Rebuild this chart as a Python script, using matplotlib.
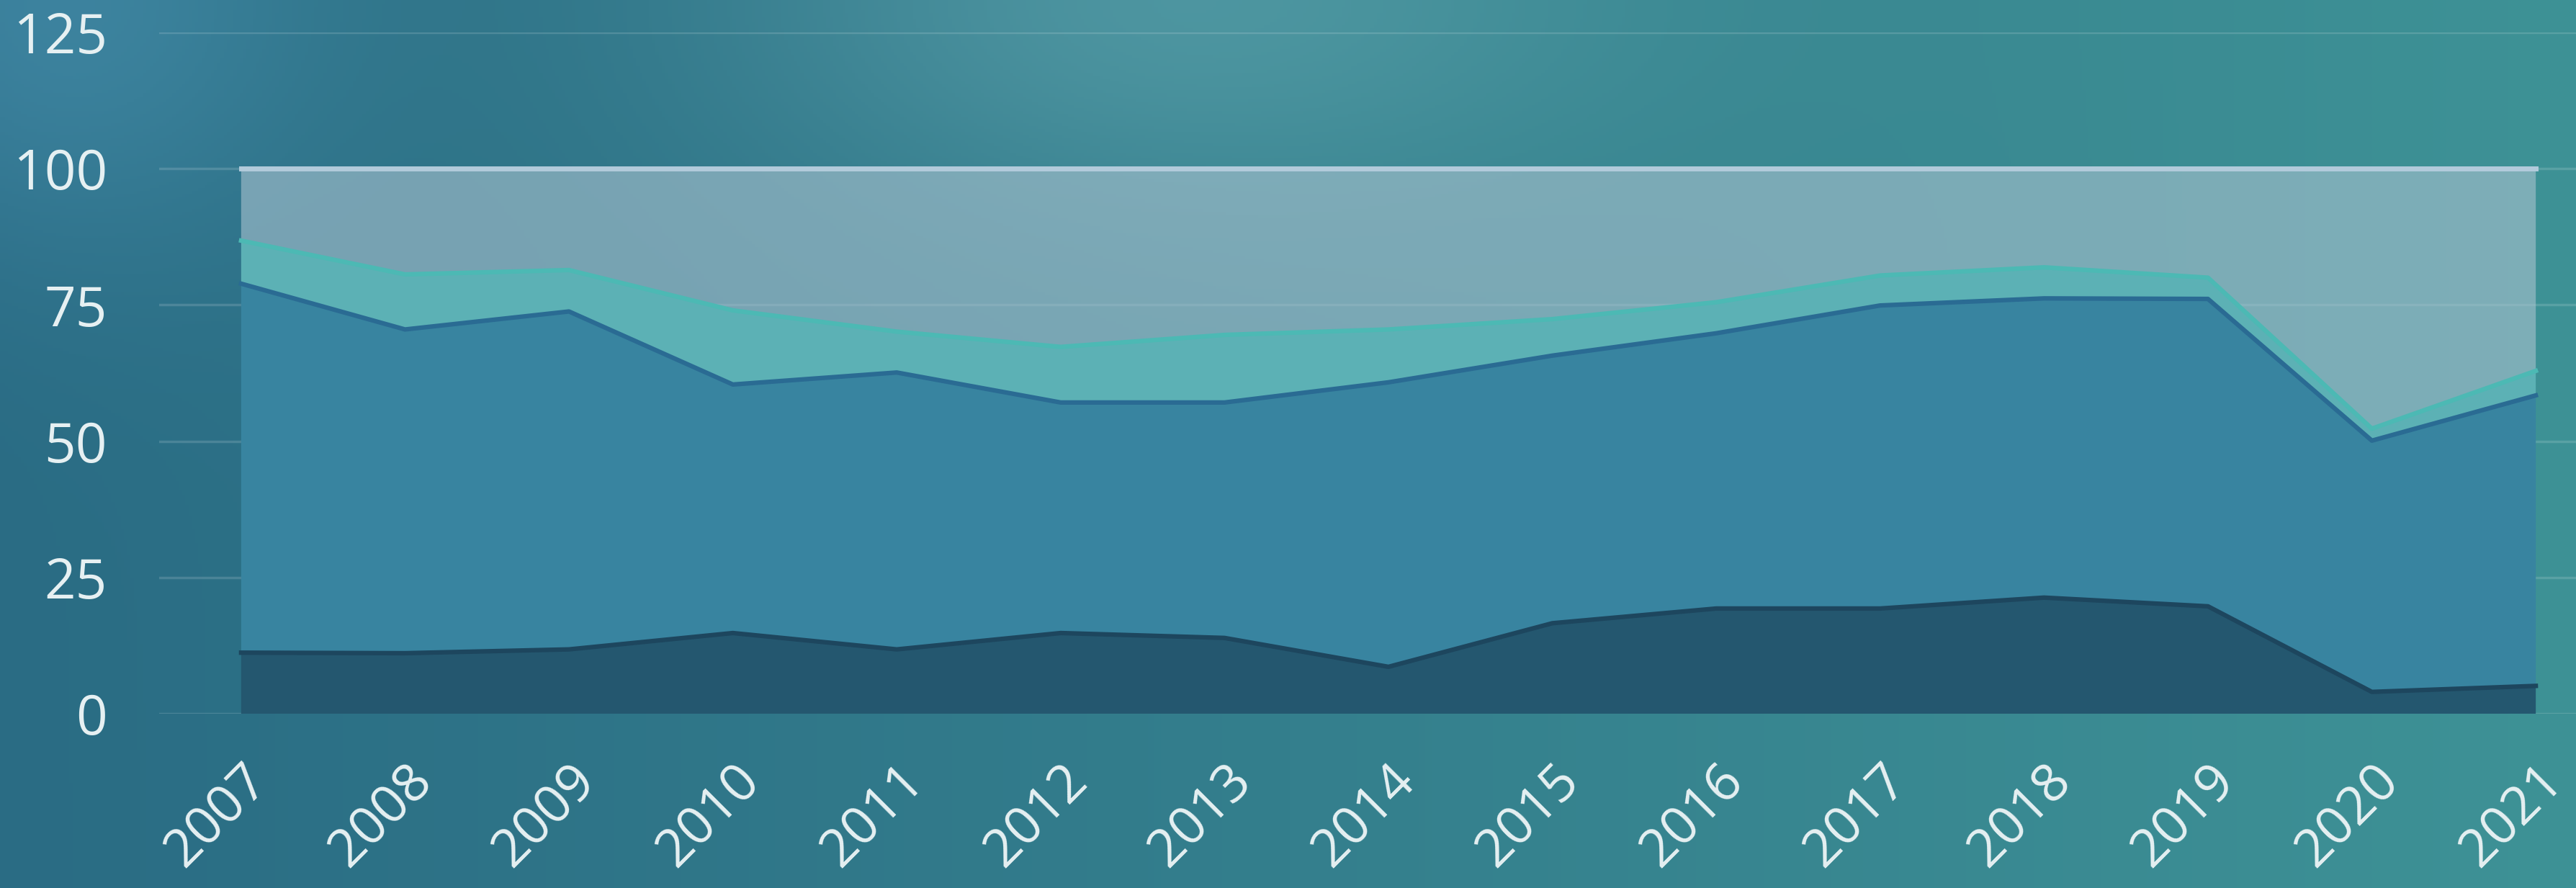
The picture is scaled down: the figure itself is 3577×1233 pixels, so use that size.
import matplotlib.pyplot as plt
import numpy as np
from matplotlib.transforms import ScaledTranslation

years = list(range(2007, 2022))
# four stacked shares (bottom to top), each year sums to 100
share_dark = [11.2, 11.1, 11.8, 14.8, 11.8, 14.8, 13.9, 8.6, 16.6, 19.3, 19.3, 21.3, 19.7, 4.0, 5.1]
share_mid = [67.7, 59.4, 62.0, 45.6, 50.8, 42.3, 43.2, 52.2, 49.1, 50.5, 55.6, 54.9, 56.4, 46.1, 53.3]
share_teal = [7.9, 10.1, 7.6, 13.6, 7.5, 10.2, 12.4, 9.7, 6.7, 5.7, 5.5, 5.7, 3.9, 2.2, 4.5]
share_rest = [13.2, 19.4, 18.6, 26.0, 29.9, 32.7, 30.5, 29.5, 27.6, 24.5, 19.6, 18.1, 20.0, 47.7, 37.1]
y_ticks = [0, 25, 50, 75, 100, 125]

plt.rcParams['font.family'] = ['Open Sans', 'DejaVu Sans']

fig = plt.figure(figsize=(35.77, 12.33), dpi=100)

# soft teal backdrop
yy, xx = np.mgrid[0:1:300j, 0:1:800j]
left = np.array([42, 108, 132])
right = np.array([62, 146, 150])
bg_img = left + (right - left) * xx[..., None]
glow = np.exp(-((xx - 0.45) ** 2 / 0.03 + yy ** 2 / 0.06))
bg_img = bg_img + glow[..., None] * np.array([26, 24, 20])
corner = np.exp(-((xx - 0.02) ** 2 / 0.01 + yy ** 2 / 0.08))
bg_img = bg_img + corner[..., None] * np.array([18, 22, 26])
bg = fig.add_axes([0, 0, 1, 1])
bg.imshow(np.clip(bg_img, 0, 255).astype(np.uint8), aspect='auto',
          extent=[0, 1, 0, 1], interpolation='bilinear')
bg.axis('off')

ax = fig.add_axes([0.0618, 0.1963, 0.9544, 0.7672])
ax.patch.set_alpha(0)

fills = ['#24576f', '#3884a0', '#5cb1b5', '#a8c2cf']
polys = ax.stackplot(years, share_dark, share_mid, share_teal, share_rest,
                     colors=fills, linewidth=0)
polys[3].set_alpha(0.6)

tops = np.cumsum([share_dark, share_mid, share_teal, share_rest], axis=0)
edge_cols = ['#1d465e', '#2a6b93', '#4cb9b4', '#b2cbdb']
edge_lws = [4.5, 4.5, 4.5, 5]
for top, c, lw in zip(tops, edge_cols, edge_lws):
    ax.plot(years, top, color=c, lw=lw, solid_joinstyle='round')

ax.set_xlim(2006.5, 2021.5)
ax.set_ylim(0, 125)
ax.set_yticks(y_ticks)
ax.set_xticks(years)
ax.yaxis.grid(True, color='white', alpha=0.15, lw=2.5)
ax.set_axisbelow(True)
for s in ax.spines.values():
    s.set_visible(False)

ax.tick_params(axis='y', length=0, pad=52, labelsize=55, labelcolor='#e6f0f2')
ax.tick_params(axis='x', length=0, pad=40, labelsize=53, labelcolor='#e6f0f2')
shift = ScaledTranslation(0.0, 0, fig.dpi_scale_trans)
for lab in ax.get_xticklabels():
    lab.set_rotation(45)
    lab.set_ha('right')
    lab.set_va('top')
    lab.set_rotation_mode('anchor')
    lab.set_transform(lab.get_transform() + shift)

fig.savefig('out.png', dpi=100)
